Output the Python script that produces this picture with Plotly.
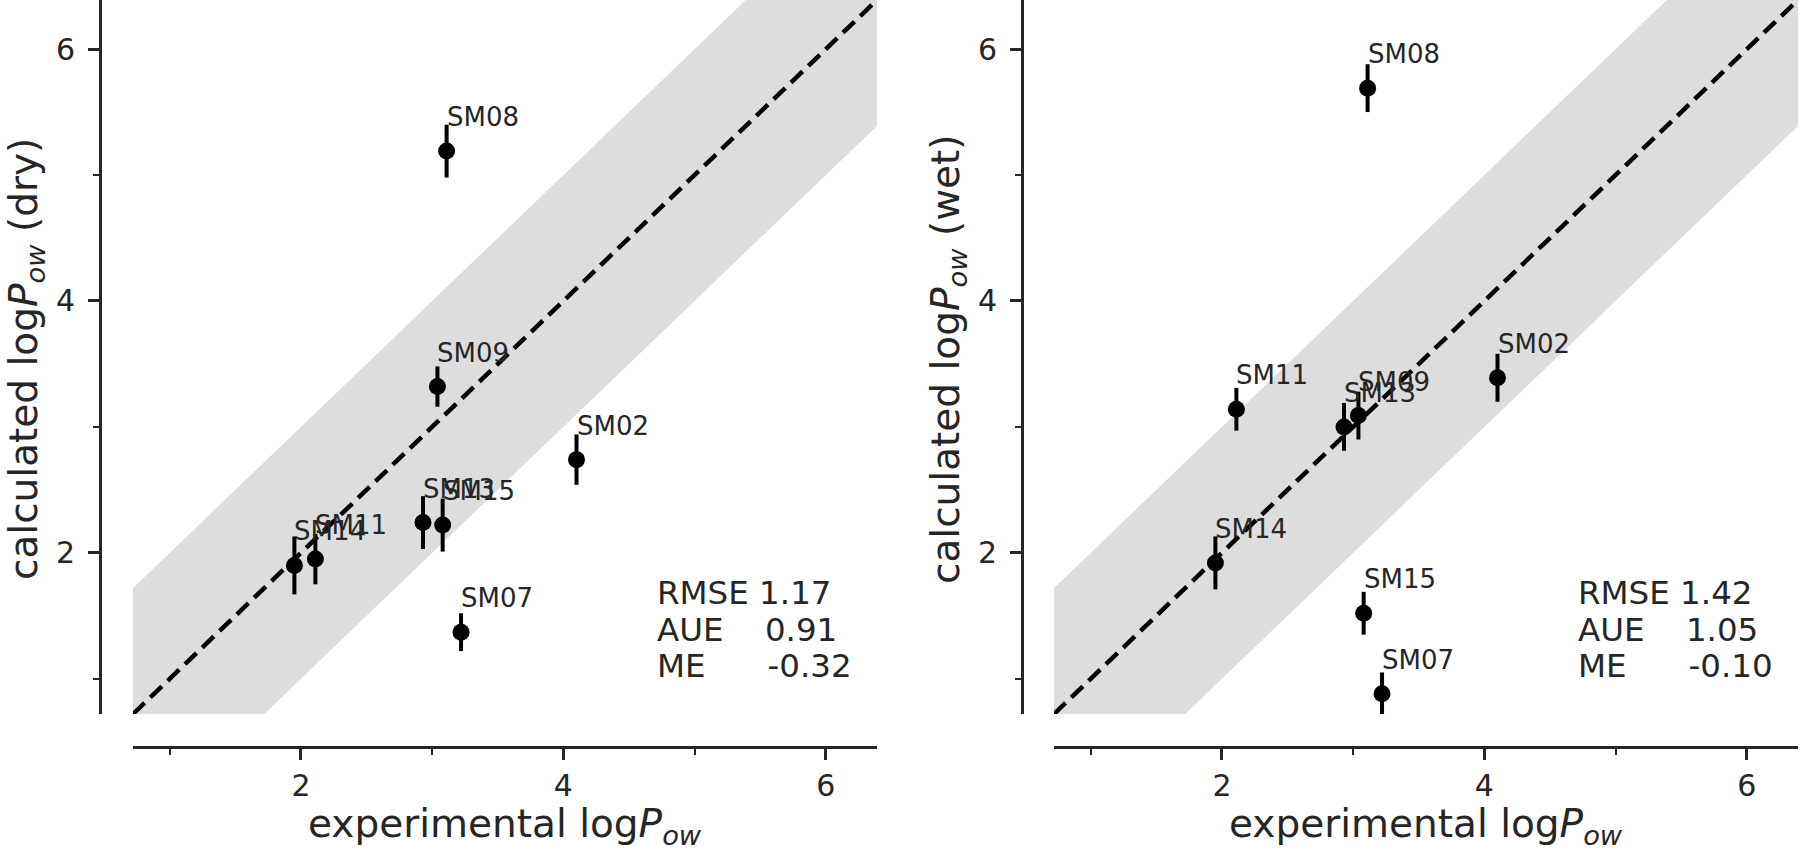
import plotly.graph_objects as go

# ---------------- data ----------------
compounds = ["SM02", "SM07", "SM08", "SM09", "SM11", "SM13", "SM14", "SM15"]
exp_logp = [4.10, 3.22, 3.11, 3.04, 2.11, 2.93, 1.95, 3.08]
dry_logp = [2.74, 1.37, 5.19, 3.32, 1.95, 2.24, 1.90, 2.22]
dry_err = [0.20, 0.15, 0.21, 0.16, 0.20, 0.21, 0.23, 0.21]
wet_logp = [3.39, 0.88, 5.69, 3.09, 3.14, 3.00, 1.92, 1.52]
wet_err = [0.19, 0.17, 0.19, 0.19, 0.17, 0.19, 0.21, 0.17]
stats_dry = ["RMSE 1.17", "AUE    0.91", "ME      -0.32"]
stats_wet = ["RMSE 1.42", "AUE    1.05", "ME      -0.10"]
major_ticks = [2, 4, 6]
minor_ticks = [1, 3, 5]
axis_lim = [0.72, 6.39]
band_halfwidth = 1.0

# ---------------- style ----------------
W, H = 1800, 853
FONT = "DejaVu Sans"
INK = "#262626"
BAND = "#dddddd"

panels = [
    dict(x0=133, x1=877, yspine=100, calc=dry_logp, err=dry_err, stats=stats_dry, tag="dry"),
    dict(x0=1054, x1=1798, yspine=1022, calc=wet_logp, err=wet_err, stats=stats_wet, tag="wet"),
]
plot_top, plot_bot, xspine = 0, 714, 747

fig = go.Figure()
lo, hi = axis_lim
band_x = [lo, hi, hi, lo, lo]
band_y = [lo + band_halfwidth, hi + band_halfwidth, hi - band_halfwidth, lo - band_halfwidth, lo + band_halfwidth]

annotations = []
for i, p in enumerate(panels):
    sfx = "" if i == 0 else str(i + 1)
    xa, ya = "x" + sfx, "y" + sfx
    fig.add_trace(go.Scatter(x=band_x, y=band_y, fill="toself", fillcolor=BAND,
                             mode="none", hoverinfo="skip", showlegend=False,
                             xaxis=xa, yaxis=ya))
    fig.add_trace(go.Scatter(x=[lo, hi], y=[lo, hi], mode="lines",
                             line=dict(color="black", width=4.5, dash="16px,8px"),
                             showlegend=False, xaxis=xa, yaxis=ya))
    fig.add_trace(go.Scatter(x=exp_logp, y=p["calc"], mode="markers",
                             marker=dict(color="black", size=17),
                             error_y=dict(type="data", array=p["err"], visible=True,
                                          color="black", thickness=4, width=0),
                             showlegend=False, xaxis=xa, yaxis=ya))
    axis_common = dict(range=axis_lim, tickvals=major_ticks, ticks="outside", ticklen=11,
                       tickwidth=2.5, tickcolor=INK, showline=True, linecolor=INK, linewidth=3,
                       showgrid=False, zeroline=False, anchor="free",
                       tickfont=dict(family=FONT, size=30, color=INK),
                       minor=dict(tickvals=minor_ticks, ticks="outside", ticklen=6,
                                  tickwidth=2, tickcolor=INK, showgrid=False))
    fig.update_layout(**{
        ("xaxis" + sfx): dict(axis_common, domain=[p["x0"] / W, p["x1"] / W],
                              position=1 - xspine / H, ticklabelstandoff=0),
        ("yaxis" + sfx): dict(axis_common, domain=[1 - plot_bot / H, 1 - plot_top / H],
                              position=p["yspine"] / W, ticklabelstandoff=7),
    })
    # point labels
    for name, xv, yv in zip(compounds, exp_logp, p["calc"]):
        annotations.append(dict(x=xv, y=yv, xref=xa, yref=ya, text=name, showarrow=False,
                                xanchor="left", yanchor="bottom", xshift=-2, yshift=17,
                                font=dict(family=FONT, size=26, color=INK)))
    # stats text
    for k, line in enumerate(p["stats"]):
        base_px = [605, 642, 678][k]
        annotations.append(dict(x=(653 - 131) / 744, y=(plot_bot - base_px) / (plot_bot - plot_top),
                                xref=xa + " domain", yref=ya + " domain",
                                text=line.replace(" ", "\u00a0"), showarrow=False,
                                xanchor="left", yanchor="bottom", yshift=-9,
                                font=dict(family=FONT, size=32.5, color=INK)))
    # axis titles
    annotations.append(dict(x=(p["x0"] + p["x1"]) / 2 / W, y=(H - 835) / H, xref="paper", yref="paper",
                            text="experimental log<i>P<sub>ow</sub></i>", showarrow=False,
                            xanchor="center", yanchor="bottom", yshift=-18,
                            font=dict(family=FONT, size=39, color=INK)))
    annotations.append(dict(x=(p["yspine"] - 74) / W, y=1 - 359 / H, xref="paper", yref="paper",
                            text="calculated log<i>P<sub>ow</sub></i> (%s)" % p["tag"], showarrow=False,
                            textangle=-90, xanchor="center", yanchor="middle",
                            font=dict(family=FONT, size=39, color=INK)))

fig.update_layout(width=W, height=H, margin=dict(l=0, r=0, t=0, b=0),
                  plot_bgcolor="white", paper_bgcolor="white",
                  annotations=annotations, showlegend=False)
fig.write_html("out.html", config={"displayModeBar": False},
               post_script="document.body.style.margin='0px';")
